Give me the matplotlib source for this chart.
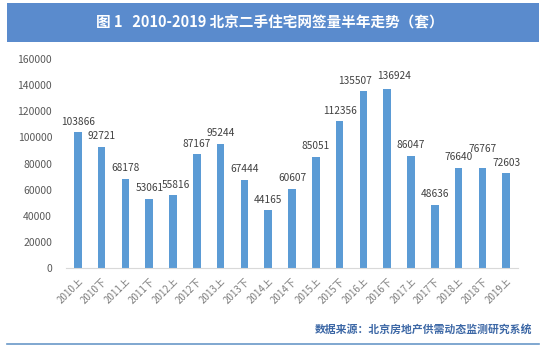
import matplotlib
matplotlib.use("Agg")
import matplotlib.pyplot as plt
from matplotlib.patches import Rectangle
from matplotlib.lines import Line2D

plt.rcParams['font.family'] = ['Noto Sans CJK SC', 'DejaVu Sans']

categories = ["2010上", "2010下", "2011上", "2011下", "2012上", "2012下", "2013上",
              "2013下", "2014上", "2014下", "2015上", "2015下", "2016上", "2016下",
              "2017上", "2017下", "2018上", "2018下", "2019上"]
values = [103866, 92721, 68178, 53061, 55816, 87167, 95244, 67444, 44165, 60607,
          85051, 112356, 135507, 136924, 86047, 48636, 76640, 76767, 72603]
yticks = [0, 20000, 40000, 60000, 80000, 100000, 120000, 140000, 160000]
title = "图 1   2010-2019 北京二手住宅网签量半年走势（套）"
source = "数据来源：北京房地产供需动态监测研究系统"

# label nudges (points) to avoid overlaps, as in the reference
nudge = {4: (2, 0), 12: (-6, 0), 13: (5, 2), 17: (0, 6)}

fig = plt.figure(figsize=(5.5, 3.56), dpi=100)
fig.patch.set_facecolor("white")

# title banner
fig.patches.append(Rectangle((0.013, 0.882), 0.967, 0.11, transform=fig.transFigure,
                             facecolor="#5a8bcd", edgecolor="none", zorder=0))
fig.text(0.49, 0.937, title, color="white", fontsize=10.5, fontweight="bold",
         ha="center", va="center")

ax = fig.add_axes([0.12, 0.247, 0.822, 0.587])
x = list(range(len(categories)))
ax.bar(x, values, width=0.32, color="#5b9bd5")
for xi, v in zip(x, values):
    dx, dy = nudge.get(xi, (0, 0))
    ax.annotate(f"{v}", (xi, v), xytext=(dx, 4 + dy), textcoords="offset points",
                ha="center", va="bottom", fontsize=7.3, color="#404040")

ax.set_xlim(-0.5, len(categories) - 0.5)
ax.set_ylim(0, 160000)
ax.set_yticks(yticks)
ax.set_yticklabels([str(t) for t in yticks], fontsize=7.5, color="#595959")
ax.set_xticks(x)
ax.set_xticklabels(categories, rotation=45, ha="right", rotation_mode="anchor",
                   fontsize=7, color="#7f7f7f")
for s in ["top", "right", "left"]:
    ax.spines[s].set_visible(False)
ax.spines["bottom"].set_color("#d9d9d9")
ax.tick_params(axis="both", length=0)
ax.tick_params(axis="y", pad=10)
ax.tick_params(axis="x", pad=6)

fig.text(0.968, 0.075, source, color="#3d68a6", fontsize=7.8, fontweight="bold",
         style="italic", ha="right", va="center")
fig.lines.append(Line2D([0.013, 0.98], [0.034, 0.034], transform=fig.transFigure,
                        color="#6a98c8", linewidth=1.2))

fig.savefig("out.png", dpi=100)
